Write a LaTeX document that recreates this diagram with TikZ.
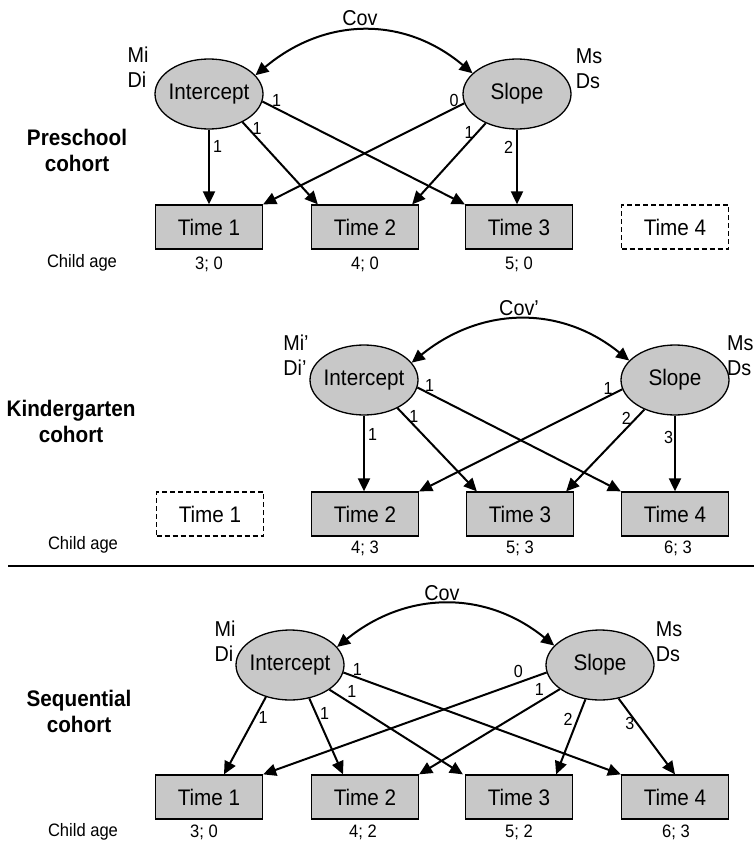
\documentclass[tikz,border=0pt]{standalone}
\usepackage{fontspec}
\setmainfont{Liberation Sans}[FakeStretch=0.92]
\usepackage{tikz}
\usetikzlibrary{shapes.geometric,arrows.meta,positioning}
\definecolor{boxgray}{HTML}{C8C8C8}

\begin{document}
\begin{tikzpicture}[
    x=1pt, y=-1pt,
    latent/.style={ellipse, draw, line width=1.3pt, fill=boxgray, minimum width=108pt,
                   minimum height=70pt, inner xsep=-3pt, inner ysep=0pt,
                   font=\fontsize{22.5}{26}\selectfont},
    observed/.style={draw, line width=1.3pt, fill=boxgray, minimum width=107pt,
                     minimum height=44pt, inner sep=0pt, font=\fontsize{22.5}{26}\selectfont},
    missing/.style={observed, fill=white, dash pattern=on 5pt off 3pt},
    arrow/.style={-{Triangle[length=13pt, width=12pt]}, line width=2pt},
    twohead/.style={{Triangle[length=13pt, width=12pt]}-{Triangle[length=13pt, width=12pt]},
                    line width=2pt},
    coef/.style={font=\fontsize{17.5}{20}\selectfont, inner sep=1pt},
    param/.style={font=\fontsize{21.5}{25}\selectfont, align=left, inner sep=0pt},
    cohort/.style={font=\bfseries\fontsize{22.5}{26}\selectfont, align=center},
    age/.style={font=\fontsize{18}{20}\selectfont}
]
\useasboundingbox (0,0) rectangle (754,845);

% --- preschool cohort ---
\node[param] (covp) at (360,18) {Cov};
\node[param] (mip) at (138,67) {Mi\\Di};
\node[latent] (pi) at (209,94) {Intercept};
\node[latent] (ps) at (517,94) {Slope};
\node[param] (msp) at (589,69) {Ms\\Ds};
\node[cohort] (pre) at (77,150) {Preschool\\cohort};

\node[observed] (p1) at (209,227) {Time 1};
\node[observed] (p2) at (365,227) {Time 2};
\node[observed] (p3) at (519,227) {Time 3};
\node[missing] (p4) at (675,227) {Time 4};

\node[age] (pa) at (82,263) {Child age};
\node[age] (pa1) at (209,264) {3; 0};
\node[age] (pa2) at (365,264) {4; 0};
\node[age] (pa3) at (519,264) {5; 0};

\draw[twohead] (pi.22) .. controls +(69,-58) and +(-69,-58) .. (ps.155);
\draw[arrow] (pi) -- node[coef, pos=0.22, right=2pt]{1} (p1);
\draw[arrow] (pi.-40) -- node[coef, pos=0.08, right=2pt]{1} ([xshift=7pt]p2.north west);
\draw[arrow] (pi.-8) -- node[coef, pos=0.07, above]{1} (p3.north west);
\draw[arrow] (ps.190) -- node[coef, pos=0.05, above]{0} (p1.north east);
\draw[arrow] (ps.223) -- node[coef, pos=0.11, left=2pt]{1} ([xshift=-7pt]p2.north east);
\draw[arrow] (ps) -- node[coef, pos=0.24, left=2pt]{2} (ps |- p3.north);

% --- kindergarten cohort ---
\node[param] (covk) at (519,308) {Cov'};
\node[param] (mik) at (296,355) {Mi'\\Di'};
\node[latent] (ki) at (364,380) {Intercept};
\node[latent] (ks) at (675,380) {Slope};
\node[param, anchor=west] (msk) at (727,356) {Ms\\Ds};
\node[cohort] (kin) at (71,421) {Kindergarten\\cohort};

\node[missing] (k1) at (210,514) {Time 1};
\node[observed] (k2) at (365,514) {Time 2};
\node[observed] (k3) at (520,514) {Time 3};
\node[observed] (k4) at (675,514) {Time 4};

\node[age] (ka) at (83,545) {Child age};
\node[age] (ka2) at (365,548) {4; 3};
\node[age] (ka3) at (520,548) {5; 3};
\node[age] (ka4) at (678,548) {6; 3};

\draw[twohead] (ki.20) .. controls +(69,-56) and +(-69,-56) .. (ks.157);
\draw[arrow] (ki) -- node[coef, pos=0.25, right=2pt]{1} (ki |- k2.north);
\draw[arrow] (ki.-40) -- node[coef, pos=0.1, right=2pt]{1} ([xshift=11pt]k3.north west);
\draw[arrow] (ki.-8) -- node[coef, pos=0.06, above]{1} (k4.north west);
\draw[arrow] (ks.190) -- node[coef, pos=0.07, above]{1} (k2.north east);
\draw[arrow] (ks.224) -- node[coef, pos=0.11, left=3pt]{2} ([xshift=-8pt]k3.north east);
\draw[arrow] (ks) -- node[coef, pos=0.29, left=0pt]{3} (ks |- k4.north);

\draw[line width=1.3pt] (8,566) -- (754,566);

% --- sequential cohort ---
\node[param] (covs) at (442,593) {Cov};
\node[param] (mis) at (225,641) {Mi\\Di};
\node[latent] (si) at (290,665) {Intercept};
\node[latent] (ss) at (600,665) {Slope};
\node[param] (mss) at (669,642) {Ms\\Ds};
\node[cohort] (seq) at (79,711) {Sequential\\cohort};

\node[observed] (s1) at (209,797) {Time 1};
\node[observed] (s2) at (365,797) {Time 2};
\node[observed] (s3) at (519,797) {Time 3};
\node[observed] (s4) at (675,797) {Time 4};

\node[age] (sa) at (83,832) {Child age};
\node[age] (sa1) at (204,832) {3; 0};
\node[age] (sa2) at (363,832) {4; 2};
\node[age] (sa3) at (519,832) {5; 2};
\node[age] (sa4) at (676,832) {6; 3};

\draw[twohead] (si.21) .. controls +(69,-56) and +(-69,-56) .. (ss.157);
\draw[arrow] (si.233) -- node[coef, pos=0.27, right=2pt]{1} ([xshift=15pt]s1.north);
\draw[arrow] (si.-60) -- node[coef, pos=0.2, right=2pt]{1} ([xshift=-22pt]s2.north);
\draw[arrow] (si.-32) -- node[coef, pos=0.12, above right=0pt]{1} ([xshift=-2pt]s3.north west);
\draw[arrow] (si.-8) -- node[coef, pos=0.05, above]{1} (s4.north west);
\draw[arrow] (ss.188) -- node[coef, pos=0.1, above=3pt]{0} (s1.north east);
\draw[arrow] (ss.211) -- node[coef, pos=0.1, above left=0pt]{1} (s2.north east);
\draw[arrow] (ss.247) -- node[coef, pos=0.27, left=3pt]{2} ([xshift=-17pt]s3.north east);
\draw[arrow] (ss.-61) -- node[coef, pos=0.33, left=1pt]{3} (s4.north);

\end{tikzpicture}
\end{document}
